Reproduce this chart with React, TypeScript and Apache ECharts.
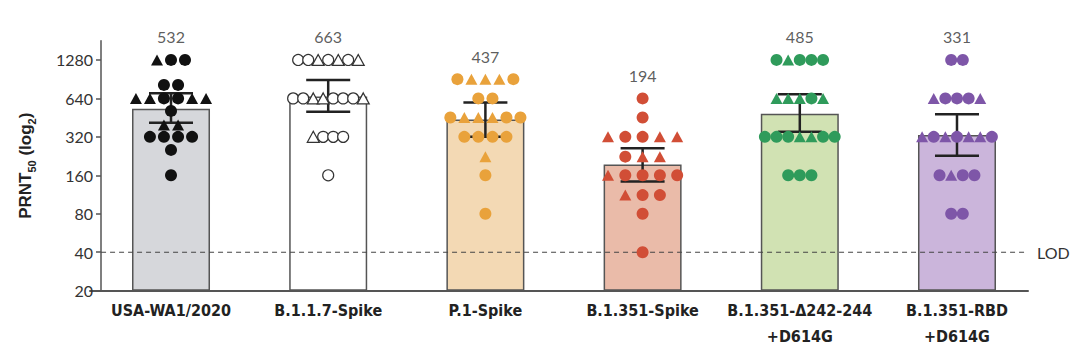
import React, { useEffect, useRef } from "react";
import * as echarts from "echarts";

// ---------- data ----------
const categories = [
  "USA-WA1/2020",
  "B.1.1.7-Spike",
  "P.1-Spike",
  "B.1.351-Spike",
  "B.1.351-\u0394242-244\n+D614G",
  "B.1.351-RBD\n+D614G",
];
const geoMeans = [532, 663, 437, 194, 485, 331];
const errLow = [413, 504, 320, 143, 351, 228];
const errHigh = [702, 892, 593, 260, 690, 481];
const yTickValues = [20, 40, 80, 160, 320, 640, 1280];
const lodValue = 40;
const lodLabel = "LOD";

// each point: [horizontal jitter within the category, PRNT50 titer, shape]
type Pt = [number, number, "c" | "t"];
const wa1Points: Pt[] = [
  [-0.089, 1280, "t"], [0, 1280, "c"], [0.089, 1280, "c"],
  [-0.045, 816, "c"], [0.045, 816, "c"],
  [-0.223, 640, "t"], [-0.134, 640, "t"], [-0.045, 640, "c"], [0.045, 640, "c"], [0.134, 640, "t"], [0.223, 640, "t"],
  [0, 511, "c"],
  [-0.045, 397, "t"], [0.045, 397, "t"],
  [-0.134, 320, "c"], [-0.045, 320, "c"], [0.045, 320, "c"], [0.134, 320, "c"],
  [0, 253, "c"],
  [0, 160, "c"],
];
const b117Points: Pt[] = [
  [-0.191, 1280, "c"], [-0.127, 1280, "c"], [-0.064, 1280, "t"], [0, 1280, "c"], [0.064, 1280, "t"], [0.127, 1280, "c"], [0.191, 1280, "t"],
  [-0.223, 640, "c"], [-0.159, 640, "c"], [-0.095, 640, "t"], [-0.032, 640, "t"], [0.032, 640, "c"], [0.095, 640, "c"], [0.159, 640, "c"], [0.223, 640, "t"],
  [-0.095, 320, "t"], [-0.032, 320, "c"], [0.032, 320, "c"], [0.095, 320, "c"],
  [0, 160, "c"],
];
const p1Points: Pt[] = [
  [-0.178, 905, "c"], [-0.089, 905, "t"], [0, 905, "t"], [0.089, 905, "t"], [0.178, 905, "c"],
  [-0.045, 640, "c"], [0.045, 640, "c"],
  [-0.223, 453, "c"], [-0.134, 453, "t"], [-0.045, 453, "t"], [0.045, 453, "t"], [0.134, 453, "c"], [0.223, 453, "c"],
  [-0.134, 320, "c"], [-0.045, 320, "c"], [0.045, 320, "c"], [0.134, 320, "c"],
  [0, 224, "t"],
  [0, 160, "c"],
  [0, 80, "c"],
];
const b1351Points: Pt[] = [
  [0, 640, "c"],
  [0, 453, "c"],
  [-0.22, 320, "t"], [-0.11, 320, "c"], [0, 320, "c"], [0.11, 320, "t"], [0.22, 320, "t"],
  [-0.11, 224, "c"], [0, 224, "t"], [0.11, 224, "t"],
  [-0.22, 160, "t"], [-0.11, 160, "c"], [0, 160, "c"], [0.11, 160, "c"], [0.22, 160, "c"],
  [-0.11, 112, "t"], [0, 112, "c"], [0.11, 112, "c"],
  [0, 80, "c"],
  [0, 40, "c"],
];
const d242Points: Pt[] = [
  [-0.148, 1280, "c"], [-0.074, 1280, "t"], [0, 1280, "c"], [0.074, 1280, "c"], [0.148, 1280, "c"],
  [-0.148, 640, "t"], [-0.074, 640, "t"], [0, 640, "t"], [0.074, 640, "c"], [0.148, 640, "t"],
  [-0.222, 320, "c"], [-0.148, 320, "c"], [-0.074, 320, "c"], [0, 320, "t"], [0.074, 320, "t"], [0.148, 320, "c"], [0.222, 320, "c"],
  [-0.074, 160, "c"], [0, 160, "c"], [0.074, 160, "c"],
];
const rbdPoints: Pt[] = [
  [-0.037, 1280, "c"], [0.037, 1280, "c"],
  [-0.148, 640, "t"], [-0.074, 640, "c"], [0, 640, "c"], [0.074, 640, "c"], [0.148, 640, "t"],
  [-0.222, 320, "t"], [-0.148, 320, "c"], [-0.074, 320, "t"], [0, 320, "c"], [0.074, 320, "t"], [0.148, 320, "t"], [0.222, 320, "c"],
  [-0.111, 160, "c"], [-0.037, 160, "t"], [0.037, 160, "c"], [0.111, 160, "c"],
  [-0.037, 80, "c"], [0.037, 80, "c"],
];
const groupPoints = [wa1Points, b117Points, p1Points, b1351Points, d242Points, rbdPoints];

// ---------- styles ----------
const barColors = ["#d6d7db", "#ffffff", "#f3d9b4", "#eabba9", "#d1e2b3", "#cbb5db"];
const dotColors = ["#111111", "#ffffff", "#e9a23b", "#d14e36", "#2f9b5b", "#7e56a8"];
const NUM_FONT = "Lato, 'Liberation Sans', sans-serif";
const CAT_FONT = "'DejaVu Sans Condensed', sans-serif";

const T = (v: number) => Math.log2(v / 20);
const yMinV = 20;
const yMaxV = 1810;

export default function App() {
  const ref = useRef<HTMLDivElement>(null);
  useEffect(() => {
    if (!ref.current) return;
    const chart = echarts.init(ref.current, undefined, { renderer: "svg" });

    const catIdx = categories.map((_, i) => i);

    const scatterSeries = groupPoints.map((pts, g) => ({
      type: "scatter",
      z: 5,
      symbolSize: 12,
      itemStyle:
        g === 1
          ? { color: "#ffffff", borderColor: "#333333", borderWidth: 1.2, opacity: 1 }
          : { color: dotColors[g], opacity: 1 },
      data: pts.map(([dx, v, s]) => ({
        value: [g + dx, T(v)],
        symbol: s === "c" ? "circle" : "triangle",
        symbolSize: s === "c" ? (g === 1 ? 11 : 12) : [12, 11],
      })),
    }));

    const labelSeries = {
      type: "scatter",
      z: 6,
      symbolSize: 0,
      data: groupPoints.map((pts, g) => ({
        value: [g, T(Math.max(...pts.map((p) => p[1])))],
        label: {
          show: true,
          position: "top",
          distance: 15,
          formatter: String(geoMeans[g]),
          fontSize: 16,
          color: "#333",
          fontFamily: NUM_FONT,
        },
      })),
    };

    const option: any = {
      animation: false,
      grid: { left: 90, width: 938, top: 40.7, height: 250 },
      xAxis: {
        type: "value",
        min: -0.5153,
        max: 5.4517,
        splitLine: { show: false },
        axisLine: { show: true, onZero: false, lineStyle: { color: "#555", width: 2 } },
        axisTick: { show: false },
        axisLabel: {
          customValues: catIdx,
          formatter: (v: number) => categories[Math.round(v)] ?? "",
          fontFamily: CAT_FONT,
          fontWeight: "bold",
          fontSize: 16,
          lineHeight: 26,
          color: "#222",
          margin: 7,
        },
      },
      yAxis: {
        type: "value",
        min: T(yMinV),
        max: T(yMaxV),
        offset: -11,
        splitLine: { show: false },
        axisLine: { show: true, onZero: false, lineStyle: { color: "#555", width: 1.5 } },
        axisTick: {
          show: true,
          length: 5,
          customValues: yTickValues.map(T),
          lineStyle: { color: "#555", width: 1.5 },
        },
        axisLabel: {
          customValues: yTickValues.map(T),
          formatter: (v: number) => String(Math.round(20 * Math.pow(2, v))),
          fontSize: 16,
          color: "#333",
          fontFamily: NUM_FONT,
          margin: 8,
        },
        name: "{n|PRNT}{s|50}{n| (log}{s|2}{n|)}",
        nameLocation: "middle",
        nameRotate: 90,
        nameGap: 64,
        nameTextStyle: {
          rich: {
            n: { fontSize: 17, fontWeight: "bold", color: "#222", fontFamily: "'Liberation Sans', sans-serif", lineHeight: 24 },
            s: { fontSize: 11, fontWeight: "bold", color: "#222", fontFamily: "'Liberation Sans', sans-serif", lineHeight: 12, verticalAlign: "bottom" },
          },
        },
      },
      series: [
        {
          type: "bar",
          z: 2,
          barWidth: 78,
          data: geoMeans.map((m, i) => ({
            value: [i, T(m)],
            itemStyle: { color: barColors[i], borderColor: "#555", borderWidth: 1.5 },
          })),
        },
        {
          type: "line",
          z: 3,
          symbol: "none",
          data: [
            [-0.445, T(lodValue)],
            [5.445, T(lodValue)],
          ],
          lineStyle: { color: "#444", width: 1.2, type: [5, 4] },
          endLabel: {
            show: true,
            formatter: lodLabel,
            distance: 10,
            fontSize: 16,
            color: "#333",
            fontFamily: NUM_FONT,
          },
        },
        {
          type: "custom",
          z: 4,
          data: catIdx.map((i) => [i, T(errLow[i]), T(errHigh[i])]),
          renderItem: (params: any, api: any) => {
            const x = api.value(0);
            const lo = api.coord([x, api.value(1)]);
            const hi = api.coord([x, api.value(2)]);
            const hw = 22;
            const style = { stroke: "#222", lineWidth: 2.5 };
            return {
              type: "group",
              children: [
                { type: "line", shape: { x1: hi[0], y1: hi[1], x2: lo[0], y2: lo[1] }, style },
                { type: "line", shape: { x1: hi[0] - hw, y1: hi[1], x2: hi[0] + hw, y2: hi[1] }, style },
                { type: "line", shape: { x1: lo[0] - hw, y1: lo[1], x2: lo[0] + hw, y2: lo[1] }, style },
              ],
            };
          },
        },
        ...scatterSeries,
        labelSeries,
      ],
    };
    chart.setOption(option);
    return () => chart.dispose();
  }, []);

  return (
    <div
      ref={ref}
      style={{ position: "fixed", left: 0, top: 0, width: 1080, height: 353, background: "#fff" }}
    />
  );
}
